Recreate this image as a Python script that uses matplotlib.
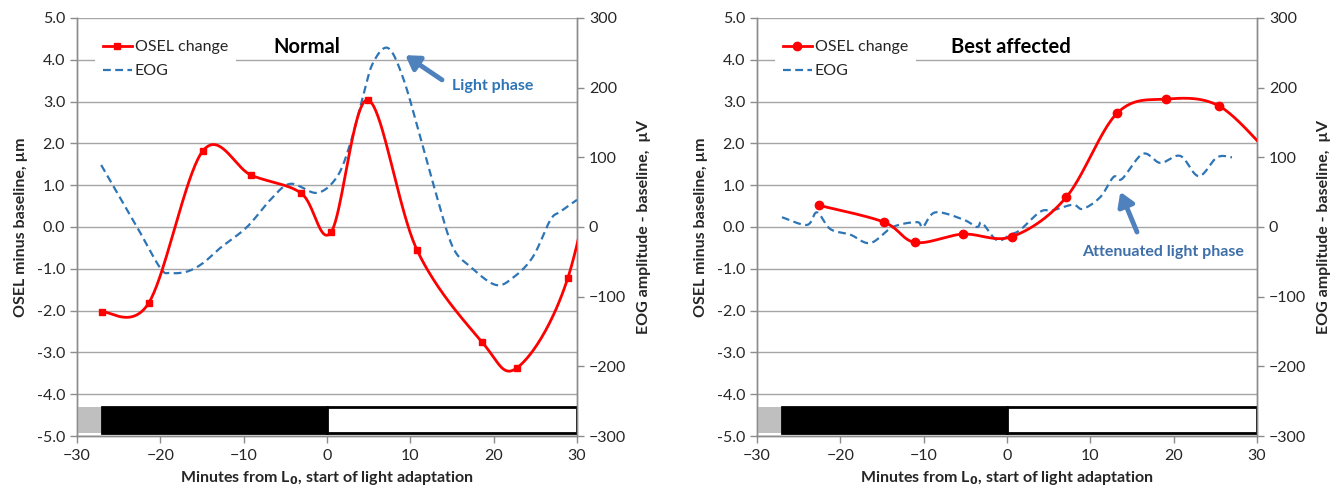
import numpy as np
import matplotlib
matplotlib.use("Agg")
import matplotlib.pyplot as plt
from matplotlib.lines import Line2D

plt.rcParams['font.family'] = ['Lato', 'DejaVu Sans']

# ---------------- data ----------------
# Normal
normal_osel_x = [-27.0, -21.4, -14.9, -9.1, -3.1, 0.5, 4.9, 10.8, 18.6, 22.8, 28.9, 34.0]
normal_osel_y = [-2.03, -1.82, 1.82, 1.24, 0.81, -0.12, 3.04, -0.55, -2.75, -3.37, -1.22, 3.5]
normal_eog_x = [-27.1, -22.8, -20.0, -18.8, -16.8, -14.9, -12.8, -9.6, -6.8, -4.4,
                -1.2, 1.2, 2.8, 4.3, 5.5, 7.3, 9.1, 11.2, 13.2, 15.1, 17.2, 20.2, 22.3,
                24.7, 26.8, 28.0, 30.0]
normal_eog_y = [89, 0, -59, -66, -64, -52, -30, 0, 39, 62,
                49, 72, 120, 187, 235, 257, 215, 129, 43, -29, -57, -83, -73,
                -43, 10, 22, 39]

# Best affected
best_osel_x = [-22.6, -14.8, -11.0, -5.3, 0.6, 7.1, 13.2, 19.1, 25.4, 31.5]
best_osel_y = [0.52, 0.12, -0.37, -0.17, -0.23, 0.71, 2.72, 3.06, 2.90, 1.75]
best_eog_x = [-27.0, -24.0, -22.8, -21.2, -18.8, -16.4, -13.7, -10.8, -10.1, -8.6, -5.3,
              -3.6, -3.0, -1.2, 0.4, 1.6, 4.0, 5.5, 7.9, 9.1, 11.2, 12.8, 13.8, 16.3,
              18.4, 20.8, 23.0, 25.2, 27.0]
best_eog_y = [14, 3, 21, -3, -11, -23, 0, 7, 0, 21, 11, 0, 6, -19, -11, -4, 22, 24, 32,
              26, 43, 72, 69, 105, 92, 102, 73, 100, 100]

# light adaptation protocol bar
phase_start = [-30, -27, 0]
phase_end = [-27, 0, 30]
phase_color = ['#BFBFBF', '#000000', '#FFFFFF']

panel_titles = ['Normal', 'Best affected']
osel_markers = ['s', 'o']


def excel_smooth(xs, ys, n=40):
    """Catmull-Rom (Excel style smoothed line)."""
    P = np.column_stack([xs, ys]).astype(float)
    P = np.vstack([P[0], P, P[-1]])
    out = []
    t = np.linspace(0, 1, n)
    for i in range(1, len(P) - 2):
        p0, p1, p2, p3 = P[i - 1], P[i], P[i + 1], P[i + 2]
        c1 = p1 + (p2 - p0) / 6.0
        c2 = p2 - (p3 - p1) / 6.0
        seg = ((1 - t) ** 3)[:, None] * p1 + (3 * (1 - t) ** 2 * t)[:, None] * c1 \
            + (3 * (1 - t) * t ** 2)[:, None] * c2 + (t ** 3)[:, None] * p2
        out.append(seg if i == 1 else seg[1:])
    S = np.vstack(out)
    return S[:, 0], S[:, 1]


RED = '#FF0000'
BLUE = '#2E75B6'
ARROW = '#4F81BD'
GRID = '#A6A6A6'
SPINE = '#8C8C8C'
TXT = '#262626'

fig = plt.figure(figsize=(13.41, 4.98), dpi=100)
lefts = [77 / 1341, 757 / 1341]
bottom = (498 - 436) / 498
width = 500 / 1341
height = 418 / 498

datasets = [
    (normal_osel_x, normal_osel_y, normal_eog_x, normal_eog_y),
    (best_osel_x, best_osel_y, best_eog_x, best_eog_y),
]

for k in range(2):
    ox, oy, ex, ey = datasets[k]
    ax = fig.add_axes([lefts[k], bottom, width, height])
    ax2 = ax.twinx()

    ax.set_xlim(-30, 30)
    ax.set_ylim(-5, 5)
    ax2.set_ylim(-300, 300)
    ax.set_xticks(range(-30, 31, 10))
    ax.set_yticks(np.arange(-5, 5.01, 1.0))
    ax.set_yticklabels(['%.1f' % v for v in np.arange(-5, 5.01, 1.0)])
    ax2.set_yticks(range(-300, 301, 100))

    ax.grid(axis='y', color=GRID, lw=1.0)
    ax.set_axisbelow(True)
    for a in (ax, ax2):
        for s in ['top']:
            a.spines[s].set_visible(False)
        for s in ['left', 'right', 'bottom']:
            a.spines[s].set_color(SPINE)
            a.spines[s].set_linewidth(1.0)
        a.tick_params(colors=SPINE, labelcolor=TXT, labelsize=11.5, length=5, width=1)
    ax.tick_params(axis='x', pad=4)

    # protocol bar
    for s0, s1, c in zip(phase_start, phase_end, phase_color):
        ec = 'none' if c == '#BFBFBF' else 'black'
        ax.barh(-4.62, s1 - s0, left=s0, height=0.62, color=c, edgecolor=ec,
                lw=2.0, zorder=3)

    # EOG (right axis)
    sx, sy = excel_smooth(ex, ey)
    ax2.plot(sx, sy, color=BLUE, lw=1.6, ls=(0, (3.5, 2)), zorder=4)
    # OSEL (left axis units, drawn in ax2 scaled by 60)
    sx, sy = excel_smooth(ox, oy)
    ax2.plot(sx, np.array(sy) * 60, color=RED, lw=2.0, zorder=5, clip_on=True)
    ax2.plot(ox, np.array(oy) * 60, ls='none', marker=osel_markers[k],
             ms=5 if k == 0 else 6, color=RED, zorder=6)
    ax2.set_xlim(-30, 30)

    ax.set_xlabel(r'Minutes from L$_\mathbf{0}$, start of light adaptation',
                  fontsize=11.5, fontweight='bold', color=TXT, labelpad=5)
    ax.set_ylabel('OSEL minus baseline, µm', fontsize=11.5, fontweight='bold',
                  color=TXT, labelpad=6)
    ax2.set_ylabel('EOG amplitude - baseline,  µV', fontsize=11.5, fontweight='bold',
                   color=TXT, labelpad=8)

    handles = [Line2D([], [], color=RED, lw=2, marker=osel_markers[k],
                      ms=4 if k == 0 else 6),
               Line2D([], [], color=BLUE, lw=1.6, ls=(0, (3.5, 2)))]
    leg = ax2.legend(handles, ['OSEL change', 'EOG'], loc='upper left',
                     bbox_to_anchor=(0.02, 0.985), frameon=True, fancybox=False,
                     edgecolor='none', facecolor='white', framealpha=1,
                     fontsize=11.5, handlelength=1.8, handletextpad=0.2,
                     borderpad=0.5, labelspacing=0.6)
    leg.set_zorder(10)
    for t in leg.get_texts():
        t.set_color(TXT)

    ax2.text(-2.4 if k == 0 else 0.5, 4.3 * 60, panel_titles[k], fontsize=14.5,
             fontweight='bold', ha='center', va='center', color='black', zorder=11)

    if k == 0:
        ax2.annotate('', xy=(9.4, 4.11 * 60), xytext=(13.8, 3.52 * 60),
                     arrowprops=dict(arrowstyle='-|>,head_width=0.5,head_length=0.8',
                                     color=ARROW, lw=3.5, shrinkA=0, shrinkB=0), zorder=12)
        ax2.text(19.9, 3.37 * 60, 'Light phase', fontsize=11.5, fontweight='bold',
                 color=BLUE, ha='center', va='center', zorder=12)
    else:
        ax2.annotate('', xy=(13.6, 0.84 * 60), xytext=(15.6, -0.12 * 60),
                     arrowprops=dict(arrowstyle='-|>,head_width=0.5,head_length=0.8',
                                     color=ARROW, lw=3.5, shrinkA=0, shrinkB=0), zorder=12)
        ax2.text(18.7, -0.6 * 60, 'Attenuated light phase', fontsize=11.5,
                 fontweight='bold', color='#3E6FA8', ha='center', va='center', zorder=12)

fig.savefig('out.png', dpi=100)
